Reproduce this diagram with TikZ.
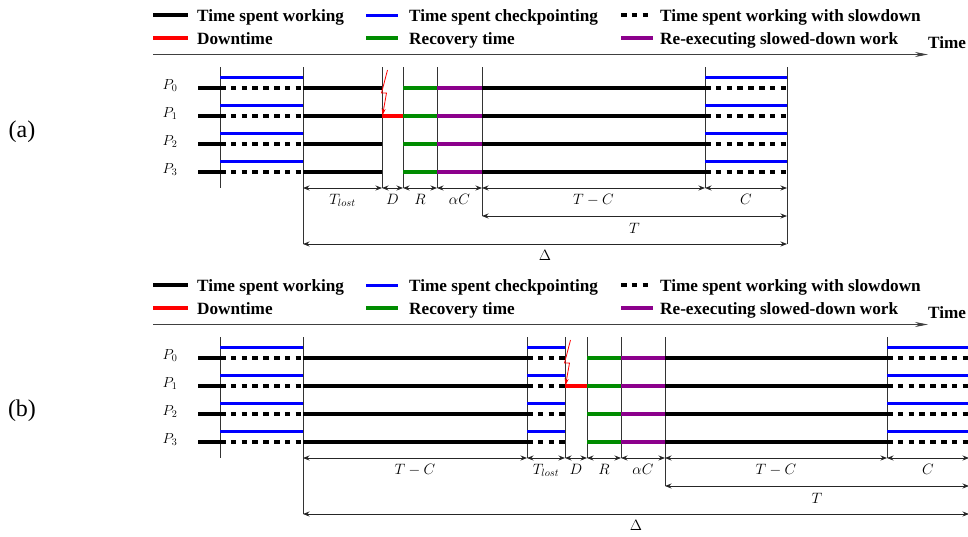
\RequirePackage{fix-cm}
\documentclass[tikz,border=0pt]{standalone}
\usepackage{fontspec}
\setmainfont{Liberation Serif}
\usetikzlibrary{arrows.meta,calc}
\definecolor{mygreen}{RGB}{0,140,0}
\definecolor{mypurple}{RGB}{140,0,140}
\tikzset{
  work/.style={line width=3.2pt,black},
  ckpt/.style={line width=3pt,blue},
  slow/.style={line width=3.2pt,black,dash pattern=on 5.5pt off 5.3pt},
  down/.style={line width=3.2pt,red},
  recov/.style={line width=3.2pt,mygreen},
  reexec/.style={line width=3.2pt,mypurple},
  tickline/.style={line width=0.9pt,black!80},
  dimarr/.style={line width=0.8pt,black!85,{Stealth[length=6.5pt,width=5pt]}-{Stealth[length=6.5pt,width=5pt]}},
  dimlab/.style={anchor=base,inner sep=0pt,font=\fontsize{15}{17}\selectfont},
  leglab/.style={anchor=base west,inner sep=0pt,font=\fontsize{17.2}{20}\selectfont\bfseries},
  plab/.style={anchor=base west,inner sep=0pt,font=\fontsize{14.5}{16}\selectfont},
  bolt/.style={red,line width=0.8pt,-{Stealth[length=7pt,width=4pt]}},
  timeaxis/.style={line width=0.9pt,black!75,-{Stealth[length=13pt,width=5pt]}},
  panellab/.style={anchor=center,inner sep=0pt,font=\fontsize{24}{28}\selectfont},
}
% legend, time axis and processor labels of one panel
\newcommand\legendblock[1]{%
  \coordinate (#1l1a) at (153,15); \coordinate (#1l1b) at (188,15);
  \draw[work] (#1l1a) -- (#1l1b);
  \node[leglab] (#1t1) at (197,21.5) {Time spent working};
  \coordinate (#1l2a) at (366,15); \coordinate (#1l2b) at (398,15);
  \draw[ckpt] (#1l2a) -- (#1l2b);
  \node[leglab] (#1t2) at (409,21.5) {Time spent checkpointing};
  \coordinate (#1l3a) at (621,15); \coordinate (#1l3b) at (653,15);
  \draw[slow] (#1l3a) -- (#1l3b);
  \node[leglab] (#1t3) at (660,21.5) {Time spent working with slowdown};
  \coordinate (#1l4a) at (153,38); \coordinate (#1l4b) at (188,38);
  \draw[down] (#1l4a) -- (#1l4b);
  \node[leglab] (#1t4) at (197,44.5) {Downtime};
  \coordinate (#1l5a) at (366,38); \coordinate (#1l5b) at (398,38);
  \draw[recov] (#1l5a) -- (#1l5b);
  \node[leglab] (#1t5) at (409,44.5) {Recovery time};
  \coordinate (#1l6a) at (621,38); \coordinate (#1l6b) at (653,38);
  \draw[reexec] (#1l6a) -- (#1l6b);
  \node[leglab] (#1t6) at (660,44.5) {Re-executing slowed-down work};
  \coordinate (#1ax0) at (153,54.5); \coordinate (#1ax1) at (928,54.5);
  \draw[timeaxis] (#1ax0) -- (#1ax1);
  \node[leglab] (#1time) at (928,48.5) {Time};
  \foreach \i/\y in {0/88,1/116,2/144,3/172}
    \node[plab] (#1p\i) at (162.5,\y+1.5) {$P_{\i}$};
}
% dimension arrow: prefix-name, x1, x2, y, label baseline offset, label
\newcommand\dimln[6]{%
  \coordinate (#1-l) at (#2,#4);
  \coordinate (#1-r) at (#3,#4);
  \draw[dimarr] (#1-l) -- (#1-r);
  \node[dimlab] (#1-t) at ($(#1-l)!0.5!(#1-r)+(0,#5)$) {#6};
}
\begin{document}
\begin{tikzpicture}[x=1pt,y=-1pt]
\useasboundingbox (0,0) rectangle (968,536);
\clip (0,0) rectangle (968,536);

% ---------------- panel (a) ----------------
\begin{scope}
  \legendblock{a}
  \node[panellab] (alab) at (22,132) {(a)};
  \foreach \x/\yb in {220/188,303/244,382/188,403/188,437/188,482/216,705/188,787/244}
    \draw[tickline] (\x,67) -- (\x,\yb);
  \foreach \y in {88,116,144,172}{
    \foreach \s/\xa/\xb in {work/198/220,slow/220/303,work/303/382,recov/403/437,reexec/437/482,work/482/705,slow/705/787}
      \draw[\s] (\xa,\y) -- (\xb,\y);
    \foreach \xa/\xb in {220/303,705/787}
      \draw[ckpt] (\xa,\y-11) -- (\xb,\y-11);
  }
  \draw[down] (382,116) -- (403,116);
  \draw[bolt] (387.5,70) -- (381.5,93) -- (386.5,93) -- (382.5,115.5);
  \dimln{ad1}{303}{382}{188}{16}{$T_{lost}$}
  \dimln{ad2}{382}{403}{188}{16}{$D$}
  \dimln{ad3}{403}{437}{188}{16}{$R$}
  \dimln{ad4}{437}{482}{188}{16}{$\alpha C$}
  \dimln{ad5}{482}{705}{188}{16}{$T-C$}
  \dimln{ad6}{705}{787}{188}{16}{$C$}
  \dimln{ad7}{482}{787}{216}{17}{$T$}
  \dimln{ad8}{303}{787}{244}{16.5}{$\Delta$}
\end{scope}

% ---------------- panel (b) ----------------
\begin{scope}[yshift=-270pt]
  \legendblock{b}
  \node[panellab] (blab) at (22,141) {(b)};
  \foreach \x/\yb in {220/188,303/244,527/188,565/188,587/188,621/188,665/216,887/188,969/244}
    \draw[tickline] (\x,67) -- (\x,\yb);
  \foreach \y in {88,116,144,172}{
    \foreach \s/\xa/\xb in {work/198/220,slow/220/303,work/303/527,slow/527/565,recov/587/621,reexec/621/665,work/665/887,slow/887/969}
      \draw[\s] (\xa,\y) -- (\xb,\y);
    \foreach \xa/\xb in {220/303,527/565,887/969}
      \draw[ckpt] (\xa,\y-11) -- (\xb,\y-11);
  }
  \draw[down] (565,116) -- (587,116);
  \draw[bolt] (570.5,70) -- (564.5,93) -- (569.5,93) -- (565.5,115.5);
  \dimln{bd1}{303}{527}{188}{16}{$T-C$}
  \dimln{bd2}{527}{565}{188}{16}{$T_{lost}$}
  \dimln{bd3}{565}{587}{188}{16}{$D$}
  \dimln{bd4}{587}{621}{188}{16}{$R$}
  \dimln{bd5}{621}{665}{188}{16}{$\alpha C$}
  \dimln{bd6}{665}{887}{188}{16}{$T-C$}
  \dimln{bd7}{887}{969}{188}{16}{$C$}
  \dimln{bd8}{665}{969}{216}{17}{$T$}
  \dimln{bd9}{303}{969}{244}{16.5}{$\Delta$}
\end{scope}
\end{tikzpicture}
\end{document}
